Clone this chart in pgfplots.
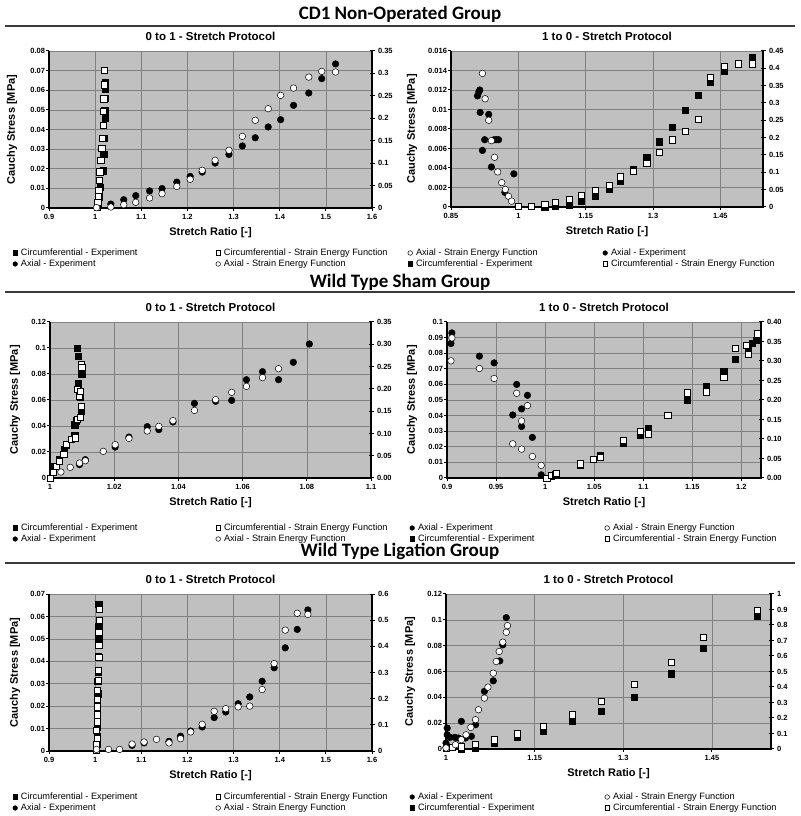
\documentclass[border=0pt]{standalone}
\usepackage{fontspec}
\setmainfont{Liberation Sans}
\newfontfamily\carlito{Carlito}
\usepackage{pgfplots}
\pgfplotsset{compat=1.18}
\definecolor{bgc}{HTML}{C0C0C0}
\definecolor{gridc}{HTML}{808080}
\definecolor{rulec}{HTML}{3A3A3A}
\newcommand\ticfont{\fontsize{7.5}{9}\selectfont\bfseries}
\newcommand\labfont{\fontsize{11}{13}\selectfont\bfseries}
\newcommand\titfont{\fontsize{11.5}{13}\selectfont\bfseries}
\newcommand\legfont{\fontsize{9.2}{11}\selectfont}
\newcommand\grpfont{\fontsize{19}{22}\selectfont\carlito\bfseries}
\pgfplotsset{
 mkleg/.style={legend image code/.code={\draw[##1,mark size=2.3pt] plot coordinates {(0pt,0pt)};}},
 cexp/.style={only marks, mark=square*, mark size=3.1pt, mark options={draw=black, fill=black, line width=0.5pt}},
 csef/.style={only marks, mark=square*, mark size=3.1pt, mark options={draw=black, fill=white, line width=0.5pt}},
 aexp/.style={only marks, mark=*, mark size=3.3pt, mark options={draw=black, fill=black, line width=0.5pt}},
 asef/.style={only marks, mark=*, mark size=3.3pt, mark options={draw=black, fill=white, line width=0.5pt}},
 ylx/.style={every axis y label/.style={at={(axis description cs:0,0.5)}, xshift=-#1, rotate=90, anchor=center, font=\labfont}},
 panel/.style={
  scale only axis, clip=false,
  axis background/.style={fill=bgc},
  grid=major, major grid style={draw=gridc, line width=0.6pt},
  axis line style={draw=none},
  tick align=outside, xtick pos=left, ytick pos=left,
  major tick length=3pt,
  tick style={black, line width=1pt},
  scaled ticks=false,
  xticklabel={\pgfmathprintnumber[fixed, precision=3, assume math mode=true]{\tick}},
  yticklabel={\pgfmathprintnumber[fixed, precision=3, assume math mode=true]{\tick}},
  ticklabel style={font=\ticfont},
  yticklabel style={xshift=2.5pt},
  xlabel={Stretch Ratio [-]}, ylabel={Cauchy Stress [MPa]},
  every axis title/.style={at={(0.5,1)}, anchor=center, yshift=14.5pt, font=\titfont},
  every axis x label/.style={at={(axis description cs:0.5,0)}, anchor=center, yshift=-24.5pt, font=\labfont},
  ylx=37pt,
  legend columns=2,
  legend style={draw=none, fill=none, inner sep=0pt, anchor=west, font=\legfont,
    row sep=1.5pt, column sep=0pt,
    /tikz/every odd column/.append style={column sep=3pt},
    nodes={inner sep=0.5pt, text height=6.5pt, text depth=2pt, anchor=west}},
  legend cell align=left,
 },
 secax/.style={
  scale only axis, hide x axis, axis line style={draw=none},
  ytick pos=right, yticklabel pos=right, tick align=center,
  major tick length=5pt, tick style={black, line width=1pt},
  scaled ticks=false,
  yticklabel={\pgfmathprintnumber[fixed, precision=2, assume math mode=true]{\tick}},
  ticklabel style={font=\ticfont}, xmin=0, xmax=1,
 },
 zfill/.style={yticklabel={\pgfmathprintnumber[fixed, fixed zerofill, precision=2, assume math mode=true]{\tick}}},
}
\newcommand\axlines{\draw[black, line width=1.6pt] (rel axis cs:0,1) -- (rel axis cs:0,0) -- (rel axis cs:1,0) -- (rel axis cs:1,1);}
\newcommand\leftlegend{%
 \addlegendimage{cexp,mkleg}\addlegendentry{\makebox[194.4pt][l]{Circumferential - Experiment}}
 \addlegendimage{csef,mkleg}\addlegendentry{Circumferential - Strain Energy Function}
 \addlegendimage{aexp,mkleg}\addlegendentry{\makebox[194.4pt][l]{Axial - Experiment}}
 \addlegendimage{asef,mkleg}\addlegendentry{Axial - Strain Energy Function}}
\newcommand\rightlegendB{%
 \addlegendimage{aexp,mkleg}\addlegendentry{\makebox[186.4pt][l]{Axial - Experiment}}
 \addlegendimage{asef,mkleg}\addlegendentry{Axial - Strain Energy Function}
 \addlegendimage{cexp,mkleg}\addlegendentry{\makebox[186.4pt][l]{Circumferential - Experiment}}
 \addlegendimage{csef,mkleg}\addlegendentry{Circumferential - Strain Energy Function}}
\begin{document}
\begin{tikzpicture}
\useasboundingbox (0pt,0pt) rectangle (800pt,816pt);
% group titles and rules
\node[anchor=base, font=\grpfont, inner sep=0pt] at (400pt,796pt) {CD1 Non-Operated Group};
\draw[rulec, line width=1.5pt] (5pt,790pt) -- (795pt,790pt);
\node[anchor=base, font=\grpfont, inner sep=0pt] at (400pt,528pt) {Wild Type Sham Group};
\draw[rulec, line width=1.5pt] (5pt,524pt) -- (795pt,524pt);
\node[anchor=base, font=\grpfont, inner sep=0pt] at (400pt,259pt) {Wild Type Ligation Group};
\draw[rulec, line width=1.5pt] (5pt,253pt) -- (795pt,253pt);

% ---------------- Panel 1: CD1, 0 to 1
\begin{axis}[panel, at={(49pt,608pt)}, anchor=south west, width=323pt, height=157pt,
  xmin=0.9, xmax=1.6, ymin=0, ymax=0.08,
  xtick={0.9,1,1.1,1.2,1.3,1.4,1.5,1.6},
  ytick={0,0.01,0.02,0.03,0.04,0.05,0.06,0.07,0.08},
  title={0 to 1 - Stretch Protocol}, ylx=37pt,
  legend style={at={(rel axis cs:-0.1124,-0.3216)}}]
\axlines
\addplot[cexp, forget plot] coordinates {(1.0057,0.0012)(1.0086,0.0055)(1.011,0.0105)(1.0173,0.019)(1.0188,0.0273)(1.0195,0.0355)(1.0217,0.046)(1.021,0.0498)(1.021,0.056)(1.0217,0.0608)(1.0217,0.0642)};
\addplot[aexp, forget plot] coordinates {(1.034,0.0020)(1.062,0.0042)(1.088,0.0063)(1.118,0.0087)(1.145,0.0099)(1.177,0.0132)(1.206,0.0161)(1.232,0.0183)(1.260,0.0229)(1.290,0.0273)(1.319,0.0316)(1.347,0.0358)(1.375,0.0413)(1.402,0.0450)(1.430,0.0523)(1.463,0.0586)(1.491,0.0659)(1.521,0.0734)};
\addplot[csef, forget plot] coordinates {(1.0043,0.0002)(1.0057,0.003)(1.0064,0.006)(1.0079,0.009)(1.0086,0.014)(1.010,0.0185)(1.0122,0.0245)(1.0144,0.0305)(1.0151,0.0355)(1.0173,0.042)(1.0173,0.0495)(1.0188,0.0557)(1.0195,0.0628)(1.0195,0.070)};
\addplot[asef, forget plot] coordinates {(1.003,0.0002)(1.034,0.0005)(1.062,0.0017)(1.088,0.0029)(1.118,0.0051)(1.145,0.0073)(1.177,0.011)(1.206,0.0146)(1.232,0.0192)(1.260,0.0243)(1.290,0.0294)(1.319,0.0365)(1.347,0.0447)(1.375,0.0506)(1.402,0.0574)(1.430,0.0611)(1.463,0.0667)(1.491,0.0696)(1.521,0.0693)};
\leftlegend
\end{axis}
\begin{axis}[secax, at={(49pt,608pt)}, anchor=south west, width=323pt, height=157pt,
  ymin=0, ymax=0.35, ytick={0,0.05,0.1,0.15,0.2,0.25,0.3,0.35}]
\end{axis}

% ---------------- Panel 2: CD1, 1 to 0
\begin{axis}[panel, at={(451pt,609pt)}, anchor=south west, width=312pt, height=156pt,
  xmin=0.85, xmax=1.545, ymin=0, ymax=0.016,
  xtick={0.85,1,1.15,1.3,1.45},
  ytick={0,0.002,0.004,0.006,0.008,0.01,0.012,0.014,0.016},
  title={1 to 0 - Stretch Protocol}, ylx=39pt,
  legend style={at={(rel axis cs:-0.1388,-0.3301)}}]
\axlines
\addplot[cexp, forget plot] coordinates {(1.059,0.0)(1.083,0.0001)(1.114,0.0002)(1.140,0.0006)(1.172,0.0011)(1.203,0.0018)(1.227,0.0027)(1.256,0.0039)(1.286,0.0051)(1.314,0.0067)(1.342,0.0082)(1.372,0.0099)(1.400,0.0115)(1.427,0.0128)(1.459,0.0139)(1.521,0.0153)};
\addplot[aexp, forget plot] coordinates {(0.909,0.0114)(0.912,0.0118)(0.914,0.0120)(0.915,0.0097)(0.934,0.0095)(0.925,0.0069)(0.946,0.0069)(0.951,0.0069)(0.956,0.0069)(0.920,0.0058)(0.940,0.0041)(0.970,0.0015)(0.990,0.0034)};
\addplot[csef, forget plot] coordinates {(1.0,0.0001)(1.029,0.0001)(1.059,0.0003)(1.083,0.0005)(1.114,0.0008)(1.140,0.0012)(1.172,0.0017)(1.203,0.0022)(1.227,0.0031)(1.256,0.0037)(1.286,0.0045)(1.314,0.0056)(1.342,0.0069)(1.372,0.0078)(1.400,0.0090)(1.427,0.0133)(1.459,0.0144)(1.490,0.0147)(1.521,0.0147)};
\addplot[asef, forget plot] coordinates {(0.920,0.0137)(0.926,0.0111)(0.934,0.0089)(0.940,0.0068)(0.947,0.0051)(0.954,0.0036)(0.963,0.0025)(0.971,0.0018)(0.978,0.0011)(0.985,0.0006)};
\addlegendimage{asef,mkleg}\addlegendentry{\makebox[186.4pt][l]{Axial - Strain Energy Function}}
\addlegendimage{aexp,mkleg}\addlegendentry{Axial - Experiment}
\addlegendimage{cexp,mkleg}\addlegendentry{\makebox[186.4pt][l]{Circumferential - Experiment}}
\addlegendimage{csef,mkleg}\addlegendentry{Circumferential - Strain Energy Function}
\end{axis}
\begin{axis}[secax, at={(451pt,609pt)}, anchor=south west, width=312pt, height=156pt,
  ymin=0, ymax=0.45, ytick={0,0.05,0.1,0.15,0.2,0.25,0.3,0.35,0.4,0.45}]
\end{axis}

% ---------------- Panel 3: Sham, 0 to 1
\begin{axis}[panel, at={(50pt,338pt)}, anchor=south west, width=321pt, height=156pt,
  xmin=1, xmax=1.1, ymin=0, ymax=0.12,
  xtick={1,1.02,1.04,1.06,1.08,1.1},
  ytick={0,0.02,0.04,0.06,0.08,0.1,0.12},
  title={0 to 1 - Stretch Protocol}, ylx=35pt,
  legend style={at={(rel axis cs:-0.1162,-0.3558)}}]
\axlines
\addplot[cexp, forget plot] coordinates {(1.0013,0.009)(1.0029,0.0141)(1.0045,0.022)(1.005,0.0256)(1.0077,0.033)(1.0077,0.041)(1.0081,0.044)(1.0097,0.0512)(1.0095,0.0623)(1.0088,0.0725)(1.0099,0.0795)(1.0088,0.0935)(1.0086,0.100)};
\addplot[aexp, forget plot] coordinates {(1.0092,0.0103)(1.011,0.0141)(1.0203,0.0238)(1.0246,0.0315)(1.0303,0.0395)(1.0339,0.0372)(1.0383,0.0431)(1.045,0.0574)(1.0516,0.059)(1.0566,0.0597)(1.0612,0.0756)(1.0662,0.0818)(1.0712,0.0756)(1.0758,0.089)(1.0808,0.1031)};
\addplot[csef, forget plot] coordinates {(1.0,0.0)(1.001,0.0046)(1.0019,0.009)(1.0029,0.0128)(1.0043,0.018)(1.005,0.026)(1.0066,0.0295)(1.0078,0.031)(1.0084,0.045)(1.0094,0.047)(1.0097,0.055)(1.009,0.063)(1.0086,0.068)(1.0095,0.067)(1.0097,0.0872)(1.0099,0.085)};
\addplot[asef, forget plot] coordinates {(1.0034,0.0046)(1.0063,0.0082)(1.0092,0.0115)(1.011,0.0133)(1.0166,0.0205)(1.0203,0.0256)(1.0246,0.0305)(1.0303,0.0362)(1.0339,0.0397)(1.0383,0.0441)(1.045,0.052)(1.0516,0.0603)(1.0566,0.0659)(1.0612,0.0705)(1.0662,0.0772)(1.0712,0.0841)};
\leftlegend
\end{axis}
\begin{axis}[secax, zfill, at={(50pt,338pt)}, anchor=south west, width=321pt, height=156pt,
  ymin=0, ymax=0.35, ytick={0,0.05,0.1,0.15,0.2,0.25,0.3,0.35}]
\end{axis}

% ---------------- Panel 4: Sham, 1 to 0
\begin{axis}[panel, at={(447pt,338pt)}, anchor=south west, width=314pt, height=156pt,
  xmin=0.9, xmax=1.22, ymin=0, ymax=0.1,
  xtick={0.9,0.95,1,1.05,1.1,1.15,1.2},
  ytick={0,0.01,0.02,0.03,0.04,0.05,0.06,0.07,0.08,0.09,0.1},
  title={1 to 0 - Stretch Protocol}, ylx=35pt,
  legend style={at={(rel axis cs:-0.1188,-0.3558)}}]
\axlines
\addplot[cexp, forget plot] coordinates {(1.0065,0.001)(1.036,0.0081)(1.056,0.0145)(1.080,0.0223)(1.0966,0.0277)(1.105,0.0319)(1.1447,0.050)(1.164,0.0589)(1.182,0.0685)(1.194,0.076)(1.207,0.084)(1.211,0.0866)(1.215,0.0883)};
\addplot[aexp, forget plot] coordinates {(0.905,0.0930)(0.904,0.0862)(0.933,0.0781)(0.948,0.0738)(0.971,0.0600)(0.982,0.0530)(0.976,0.0443)(0.967,0.0404)(0.976,0.0330)(0.987,0.0260)(0.996,0.0020)};
\addplot[csef, forget plot] coordinates {(1.0017,0.0)(1.0065,0.0017)(1.010,0.0026)(1.0113,0.0032)(1.0357,0.0091)(1.0488,0.0121)(1.0564,0.0132)(1.080,0.024)(1.0966,0.0298)(1.105,0.0283)(1.125,0.0404)(1.1447,0.0547)(1.164,0.0553)(1.182,0.0645)(1.194,0.083)(1.207,0.0794)(1.205,0.0851)(1.216,0.0925)};
\addplot[asef, forget plot] coordinates {(0.905,0.0898)(0.904,0.0751)(0.933,0.0702)(0.948,0.0638)(0.971,0.0543)(0.982,0.0464)(0.976,0.0366)(0.967,0.0219)(0.976,0.0185)(0.987,0.0138)(0.996,0.0081)};
\rightlegendB
\end{axis}
\begin{axis}[secax, zfill, at={(447pt,338pt)}, anchor=south west, width=314pt, height=156pt,
  ymin=0, ymax=0.4, ytick={0,0.05,0.1,0.15,0.2,0.25,0.3,0.35,0.4}]
\end{axis}

% ---------------- Panel 5: Ligation, 0 to 1
\begin{axis}[panel, at={(49pt,65pt)}, anchor=south west, width=323pt, height=157pt,
  xmin=0.9, xmax=1.6, ymin=0, ymax=0.07,
  xtick={0.9,1,1.1,1.2,1.3,1.4,1.5,1.6},
  ytick={0,0.01,0.02,0.03,0.04,0.05,0.06,0.07},
  title={0 to 1 - Stretch Protocol}, ylx=34pt,
  legend style={at={(rel axis cs:-0.1124,-0.328)}}]
\axlines
\addplot[cexp, forget plot] coordinates {(1.0026,0.0005)(1.0034,0.003)(1.004,0.0066)(1.0048,0.0108)(1.0048,0.0158)(1.0048,0.0201)(1.0055,0.0255)(1.0055,0.031)(1.0062,0.0353)(1.0062,0.042)(1.0077,0.0502)(1.0077,0.0554)(1.0077,0.0654)};
\addplot[aexp, forget plot] coordinates {(1.080,0.0025)(1.106,0.0036)(1.160,0.0043)(1.185,0.0066)(1.207,0.0089)(1.232,0.0107)(1.258,0.0149)(1.283,0.0174)(1.310,0.0211)(1.335,0.0241)(1.362,0.0311)(1.388,0.0371)(1.412,0.0460)(1.438,0.0542)(1.461,0.0629)};
\addplot[csef, forget plot] coordinates {(1.0026,0.0006)(1.0026,0.003)(1.0048,0.0058)(1.0026,0.0092)(1.0048,0.013)(1.0048,0.0162)(1.0048,0.0197)(1.0048,0.0231)(1.0048,0.0271)(1.0062,0.0316)(1.0062,0.036)(1.0077,0.0417)(1.0077,0.0472)(1.0077,0.0529)(1.0084,0.0584)(1.0084,0.0633)};
\addplot[asef, forget plot] coordinates {(1.003,0.0007)(1.029,0.0007)(1.053,0.0007)(1.080,0.0031)(1.106,0.0040)(1.133,0.0052)(1.160,0.0036)(1.185,0.0055)(1.207,0.0085)(1.232,0.0119)(1.258,0.0177)(1.283,0.0189)(1.310,0.0197)(1.335,0.0200)(1.362,0.0274)(1.388,0.0390)(1.412,0.0539)(1.438,0.0614)(1.461,0.0609)};
\leftlegend
\end{axis}
\begin{axis}[secax, at={(49pt,65pt)}, anchor=south west, width=323pt, height=157pt,
  ymin=0, ymax=0.6, ytick={0,0.1,0.2,0.3,0.4,0.5,0.6}]
\end{axis}

% ---------------- Panel 6: Ligation, 1 to 0
\begin{axis}[panel, at={(446pt,67pt)}, anchor=south west, width=325pt, height=155pt,
  xmin=1, xmax=1.55, ymin=0, ymax=0.12,
  xtick={1,1.15,1.3,1.45},
  ytick={0,0.02,0.04,0.06,0.08,0.1,0.12},
  title={1 to 0 - Stretch Protocol}, ylx=36pt,
  legend style={at={(rel axis cs:-0.1117,-0.3452)}}]
\axlines
\addplot[cexp, forget plot] coordinates {(1.026,0.0)(1.050,0.0008)(1.081,0.0044)(1.120,0.009)(1.165,0.0136)(1.213,0.0214)(1.263,0.0291)(1.319,0.0399)(1.381,0.0582)(1.436,0.078)(1.527,0.103)};
\addplot[aexp, forget plot] coordinates {(1.0,0.0013)(1.0,0.0046)(1.002,0.011)(1.002,0.0162)(1.007,0.009)(1.015,0.009)(1.021,0.0085)(1.026,0.0214)(1.033,0.0085)(1.043,0.0098)(1.050,0.0188)(1.065,0.0446)(1.080,0.0528)(1.091,0.0682)(1.096,0.0806)(1.102,0.1017)};
\addplot[csef, forget plot] coordinates {(1.0,0.0003)(1.011,0.0013)(1.026,0.0018)(1.050,0.0039)(1.081,0.0072)(1.120,0.0118)(1.165,0.0175)(1.213,0.0265)(1.263,0.0368)(1.319,0.0502)(1.381,0.0672)(1.436,0.0865)(1.527,0.1076)};
\addplot[asef, forget plot] coordinates {(1.0,0.0008)(1.016,0.0033)(1.026,0.0072)(1.034,0.011)(1.042,0.0167)(1.050,0.0227)(1.055,0.0304)(1.065,0.0394)(1.071,0.0479)(1.080,0.0587)(1.085,0.0677)(1.090,0.0755)(1.096,0.0827)(1.102,0.0904)(1.104,0.0955)};
\rightlegendB
\end{axis}
\begin{axis}[secax, at={(446pt,67pt)}, anchor=south west, width=325pt, height=155pt,
  ymin=0, ymax=1, ytick={0,0.1,0.2,0.3,0.4,0.5,0.6,0.7,0.8,0.9,1}]
\end{axis}
\end{tikzpicture}
\end{document}
